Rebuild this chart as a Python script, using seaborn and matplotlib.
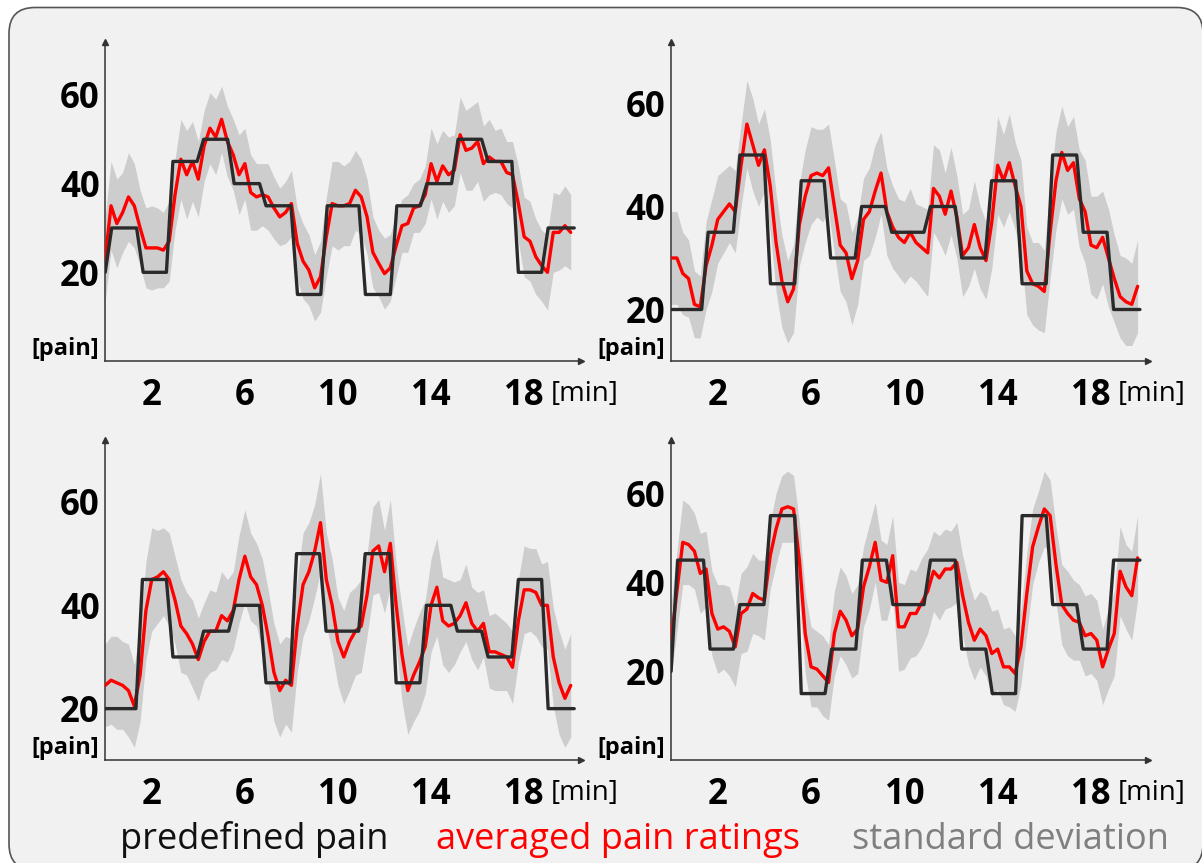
import numpy as np
import matplotlib
matplotlib.use("Agg")
import matplotlib.pyplot as plt
import matplotlib.transforms as mtransforms
from matplotlib.patches import FancyBboxPatch
import seaborn as sns

# ---------------- data ----------------
minutes = np.arange(81) * 0.25          # sampling grid of the ratings [min]

# panel 1 (top left)
p1_levels = [20, 30, 20, 45, 50, 40, 35, 15, 35, 15, 35, 40, 50, 45, 20, 30]
p1_changes = [0.0, 1.35, 2.63, 3.95, 5.26, 6.63, 7.98, 9.26, 10.9, 12.25, 13.54, 14.88, 16.17, 17.47, 18.75]
p1_rating = [23, 35, 31, 33.5, 37, 35, 30, 25.5, 25.5, 25.5, 25, 27, 37.5, 45.5, 42, 45,
             41, 48.5, 52.5, 50.5, 54.5, 49.5, 46.5, 42, 44.5, 38, 37, 37.5, 37, 34.5, 32.5, 33.5,
             35.5, 26.5, 22.5, 20.5, 16.5, 19, 28, 35.5, 35, 35, 35.5, 38.5, 37, 32.5, 24.5, 22,
             19.7, 21, 26, 30.5, 31, 34.5, 35, 37.5, 44.5, 40.5, 44, 42, 43, 51, 47.5, 48,
             49.5, 44.5, 46, 45, 45, 42.5, 42, 35.5, 28, 27, 23.5, 21.5, 20, 29, 29, 30.5, 29]
p1_sd = [9.5, 10, 10, 9, 10, 9.5, 8.5, 9, 9.5, 9, 8.5, 9, 8, 9, 10, 9, 8.5, 8,
         8, 8.5, 7.5, 8, 8, 9, 8, 8.5, 7.5, 7, 7.5, 7, 6.5, 7, 7.5, 8, 8.5, 8, 7.5, 8,
         9, 9.5, 10, 9, 9.5, 9, 8.5, 8.5, 8, 7.5, 8, 7.5, 7, 6, 6.5, 5.5, 6, 6.5,
         8, 8.5, 8, 8.5, 8, 8.5, 9, 9.5, 9, 8.5, 8.5, 7, 7.5, 7, 7.5,
         8.5, 9, 9, 8.5, 8, 8.5, 9, 8.5, 9, 8.5]

# panel 2 (top right)
p2_levels = [20, 35, 50, 25, 45, 30, 40, 35, 40, 30, 45, 25, 50, 35, 20]
p2_changes = [1.31, 2.67, 3.98, 5.3, 6.56, 7.89, 9.18, 10.84, 12.18, 13.46, 14.77, 16.08, 17.39, 18.69]
p2_rating = [30, 30, 27, 26, 21, 20.5, 28.5, 32.5, 37.5, 39, 40.5, 39, 48, 56, 52, 48,
             51, 44, 33, 25.5, 21.5, 24, 36.5, 42, 46, 46.5, 46, 47.5, 40, 32.5, 31, 26,
             29.5, 37.5, 39, 43, 46.5, 39, 36, 34, 33, 35, 33, 32, 31, 43.5, 42, 38.5,
             43, 38, 30.5, 32, 36.5, 32, 29.5, 37, 48, 45, 48.5, 44, 40, 27.5, 25, 24.5,
             23.5, 35, 45, 50.5, 47, 48.5, 41.5, 39, 32.5, 32, 34, 30, 26, 22.5, 21.5, 21, 24.5]
p2_sd = [9, 9, 8, 7.5, 6.5, 6, 8.5, 9, 8.5, 8, 7.5, 8, 8, 8.5, 9, 8, 8,
         9, 9.5, 9, 8, 8.5, 8, 9, 9.5, 8.5, 9, 8.5, 9, 9, 9.5, 9, 8.5,
         8, 8.5, 9, 8, 8.5, 8, 7.5, 8, 8.5, 7.5, 8, 8.5, 8.5, 9, 8, 8.5, 8,
         8, 7.5, 8.5, 8, 7.5, 9, 9.5, 9, 9.5, 8.5, 9, 8.5, 8, 8.5, 8,
         9, 9.5, 9, 8.5, 9, 9.5, 10, 9.5, 10, 9, 9.5, 8.5, 8, 8.5, 8, 9]

# panel 3 (bottom left)
p3_levels = [20, 45, 30, 35, 40, 25, 50, 35, 50, 25, 40, 35, 30, 45, 20]
p3_changes = [1.32, 2.63, 3.95, 5.3, 6.63, 7.94, 9.21, 10.89, 12.22, 13.52, 14.85, 16.17, 17.47, 18.75]
p3_rating = [24.5, 25.5, 25, 24.5, 23.5, 20.5, 26.5, 39, 45, 45.5, 46.5, 45, 41, 36, 34.5, 32.5,
             29.5, 33, 35, 35, 38, 37, 39, 45, 49.5, 45.5, 44, 40, 34, 27, 23.5, 25.5,
             24.5, 36, 44, 46.5, 50.5, 56, 45, 40, 33, 30, 33, 35, 36, 42, 50.5, 51.5,
             46.5, 52, 40, 30.5, 23.5, 26.5, 29, 32, 40, 43.5, 37, 36, 36.5, 38, 40.5, 36.5,
             35, 36.5, 31, 31, 30.5, 30, 28, 37, 43, 43, 42.5, 40, 40, 30, 25, 22, 24.5]
p3_sd = [8, 8.5, 9, 8.5, 9, 8, 9, 9.5, 10, 9, 8.5, 9, 8.5, 9, 8, 8.5, 8,
         7.5, 8, 7.5, 8.5, 8, 7.5, 8.5, 9, 8.5, 8, 9, 9, 9.5, 9, 8.5, 9,
         9, 10, 9.5, 9, 9.5, 9, 9, 8.5, 9, 9.5, 8.5, 9, 8, 8.5, 9, 8, 8.5, 8,
         9, 8.5, 9, 9.5, 9, 9, 9.5, 8.5, 9, 8, 7, 7.5, 7, 7.5, 6.5, 7, 7.5, 7, 6.5, 7,
         8, 8.5, 8, 8.5, 8, 8.5, 9.5, 10, 9.5, 10]

# panel 4 (bottom right)
p4_levels = [20, 45, 25, 35, 55, 15, 25, 45, 35, 45, 25, 15, 55, 35, 25, 45]
p4_changes = [0.0, 1.39, 2.67, 3.98, 5.3, 6.6, 7.92, 9.23, 10.84, 12.18, 13.49, 14.77, 16.08, 17.39, 18.69]
p4_rating = [27, 38, 49, 48.5, 47, 42, 43, 33, 29.5, 30, 29, 25.5, 33, 34, 37.5, 36.5,
             36, 46, 52, 56.5, 57, 56.5, 45, 28.5, 21, 20.5, 19, 17.5, 28.5, 33.5, 31.5, 28,
             29.5, 39, 43.5, 49, 40.5, 40, 46, 30, 30, 33, 33, 35.5, 38, 42.5, 41, 43,
             43, 44.5, 37, 31, 27, 29.5, 28, 24, 25, 21, 21, 19.5, 25.5, 37.5, 48, 52.5,
             56.5, 55, 44, 35, 33, 31.5, 31, 28, 28.5, 27, 21, 25, 28.5, 42.5, 39, 37, 45.5]
p4_sd = [8, 9, 9.5, 9, 8.5, 9, 8.5, 9.5, 10, 9.5, 10, 9, 9, 9.5, 9, 8.5, 9,
         7.5, 8, 7.5, 8, 7.5, 8.5, 9, 9, 8.5, 9, 8.5, 9.5, 10, 10, 9.5, 10,
         9, 9.5, 9, 9, 8.5, 9, 10, 9.5, 10, 9.5, 10, 9.5, 9, 9.5, 9, 8.5, 9,
         9, 9.5, 9, 8.5, 9, 9.5, 9, 8.5, 9, 8.5, 8.5, 9, 8.5, 8, 8.5, 8, 8.5,
         9, 9.5, 9, 8.5, 9, 9, 9, 8.5, 9, 9.5, 10, 9.5, 10, 9.5]

panel_end = [20.15, 20.1, 20.15, 20.1]
panel_ymin = [0, 10, 10, 0]

x_ticks = [2, 4, 6, 8, 10, 12, 14, 16, 18]
x_tick_labels = ["2", "", "6", "", "10", "", "14", "", "18"]
legend_texts = ["predefined pain", "averaged pain ratings", "standard deviation"]

RAMP = 0.28
RED = "#ff0000"
BLACK = "#2a2a2a"
BAND = "#cdcdcd"
AXC = "#333333"

# ---------------- style ----------------
sns.set_theme(style="white")
plt.rcParams["font.family"] = ["Open Sans", "DejaVu Sans"]

W, H = 1202, 863
fig = plt.figure(figsize=(W / 100, H / 100), dpi=100, facecolor="white")

frame = FancyBboxPatch((0.09, -0.07), 11.94, 8.625,
                       boxstyle="round,pad=0,rounding_size=0.26",
                       transform=fig.dpi_scale_trans, facecolor="#f1f1f1",
                       edgecolor="#555555", lw=1.2, zorder=0)
fig.add_artist(frame)

positions = [
    [105.2 / W, (H - 361) / H, 476 / W, 319.3 / H],
    [671.1 / W, (H - 361) / H, 477 / W, 319.3 / H],
    [105.2 / W, (H - 760.3) / H, 476 / W, 320.3 / H],
    [671.1 / W, (H - 760.3) / H, 477 / W, 320.3 / H],
]

panels = [
    (p1_rating, p1_sd, p1_changes, p1_levels),
    (p2_rating, p2_sd, p2_changes, p2_levels),
    (p3_rating, p3_sd, p3_changes, p3_levels),
    (p4_rating, p4_sd, p4_changes, p4_levels),
]


def step_knots(changes, levels, t_end):
    kt, kv = [0.0], [levels[0]]
    for i, c in enumerate(changes):
        kt += [c, c + RAMP]
        kv += [levels[i], levels[i + 1]]
    kt.append(t_end)
    kv.append(levels[-1])
    return np.array(kt), np.array(kv, dtype=float)


for i, (rating, sd, changes, levels) in enumerate(panels):
    ax = fig.add_axes(positions[i])
    ax.set_facecolor("none")
    r = np.array(rating, dtype=float)
    s = np.array(sd, dtype=float)
    ax.fill_between(minutes, r - s, r + s, color=BAND, lw=0, zorder=1)
    sns.lineplot(x=minutes, y=r, ax=ax, color=RED, lw=2.4,
                 estimator=None, sort=False, zorder=3)
    kt, kv = step_knots(changes, levels, panel_end[i])
    sns.lineplot(x=kt, y=kv, ax=ax, color=BLACK, lw=2.4,
                 estimator=None, sort=False, zorder=4)

    ymin = panel_ymin[i]
    ax.set_xlim(0, 20.45)
    ax.set_ylim(ymin, 72)
    for sp in ["top", "right"]:
        ax.spines[sp].set_visible(False)
    for sp in ["left", "bottom"]:
        ax.spines[sp].set_color(AXC)
        ax.spines[sp].set_linewidth(1.1)

    ax.set_xticks(x_ticks)
    ax.set_xticklabels(x_tick_labels, fontsize=25, fontweight="bold", color="black")
    yt = list(range(ymin, 71, 10))
    ax.set_yticks(yt)
    ax.set_yticklabels([str(v) if v in (20, 40, 60) else "" for v in yt],
                       fontsize=25, fontweight="bold", color="black")
    ax.tick_params(axis="both", direction="in", length=7, width=1.1, color=AXC)
    ax.tick_params(axis="x", pad=12)
    ax.tick_params(axis="y", pad=4)
    ax.set_xlabel("")
    ax.set_ylabel("")

    # arrow heads
    ax.plot(1, 0, marker=">", ms=5, color=AXC, transform=ax.transAxes, clip_on=False)
    ax.plot(0, 1, marker="^", ms=5, color=AXC, transform=ax.transAxes, clip_on=False)

    trans = mtransforms.blended_transform_factory(ax.transData, ax.transAxes)
    ax.text(19.15, -0.103, "[min]", transform=trans, fontsize=20,
            ha="left", va="center", color="black")
    ax.text(-0.013, 0.0, "[pain]", transform=ax.transAxes, fontsize=17,
            fontweight="bold", ha="right", va="bottom", color="black")

fig.text(120 / W, (H - 849) / H, legend_texts[0], fontsize=26, color="#111111", va="baseline")
fig.text(436 / W, (H - 849) / H, legend_texts[1], fontsize=26, color=RED, va="baseline")
fig.text(852 / W, (H - 849) / H, legend_texts[2], fontsize=26, color="#7f7f7f", va="baseline")

fig.savefig("out.png", dpi=100, facecolor="white")
